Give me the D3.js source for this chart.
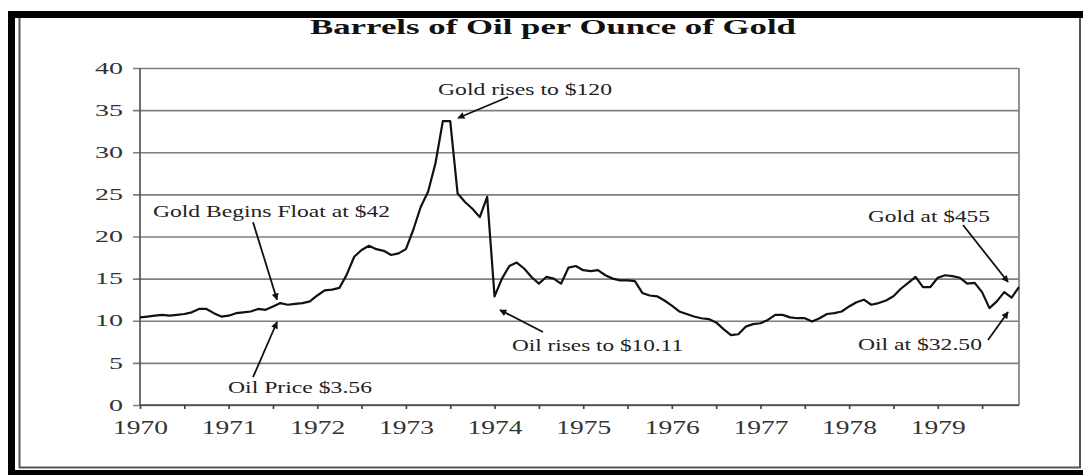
<!DOCTYPE html>
<html><head><meta charset="utf-8">
<script src="https://cdn.jsdelivr.net/npm/d3@7"></script>
<style>html,body{margin:0;padding:0;background:#fff}svg{display:block}</style>
</head><body>
<script>
// ---------- DATA ----------
const title = "Barrels of Oil per Ounce of Gold";
const yearLabels = ["1970","1971","1972","1973","1974","1975","1976","1977","1978","1979"];
const yTickValues = [0,5,10,15,20,25,30,35,40];
const startYear = 1970;
// monthly barrels of oil per ounce of gold, Jan 1970 .. Dec 1979
const ratio1970 = [10.4,10.5,10.6,10.7,10.6,10.7,10.8,11.0,11.4,11.4,10.9,10.5];
const ratio1971 = [10.6,10.9,11.0,11.1,11.4,11.3,11.7,12.1,11.9,12.0,12.1,12.3];
const ratio1972 = [13.0,13.6,13.7,13.9,15.5,17.6,18.4,18.9,18.5,18.3,17.8,18.0];
const ratio1973 = [18.5,20.8,23.5,25.3,28.7,33.7,33.7,25.1,24.1,23.3,22.3,24.7];
const ratio1974 = [12.9,15.0,16.5,16.9,16.2,15.2,14.4,15.2,15.0,14.4,16.3,16.5];
const ratio1975 = [16.0,15.9,16.0,15.4,15.0,14.8,14.8,14.7,13.3,13.0,12.9,12.4];
const ratio1976 = [11.8,11.1,10.8,10.5,10.3,10.2,9.8,9.0,8.3,8.4,9.3,9.6];
const ratio1977 = [9.7,10.1,10.7,10.7,10.4,10.3,10.3,9.9,10.3,10.8,10.9,11.1];
const ratio1978 = [11.7,12.2,12.5,11.9,12.1,12.4,12.9,13.8,14.5,15.2,14.0,14.0];
const ratio1979 = [15.1,15.4,15.3,15.1,14.4,14.5,13.4,11.5,12.3,13.4,12.75,14.0];
const ratio = [].concat(ratio1970,ratio1971,ratio1972,ratio1973,ratio1974,
                        ratio1975,ratio1976,ratio1977,ratio1978,ratio1979);
// annotations: label anchor (year, value) and arrow from/to (year, value)
const annLabels = ["Gold Begins Float at $42","Oil Price $3.56","Gold rises to $120",
                   "Oil rises to $10.11","Gold at $455","Oil at $32.50"];
const annTextAt  = [[1970.147,22.3],[1970.993,1.42],[1973.362,36.8],[1974.197,6.4],[1978.213,21.72],[1978.10,6.53]];
const annArrowFrom = [[1971.275,21.7],[1971.275,3.3],[1974.152,36.56],[1974.546,8.66],[1979.285,21.36],[1979.567,7.72]];
const annArrowTo   = [[1971.546,12.5],[1971.546,9.85],[1973.588,34.07],[1974.061,11.28],[1979.793,14.6],[1979.793,11.04]];

// ---------- LAYOUT / STYLE ----------
const W = 1083, H = 475;
const plot = {left:140, right:1019, top:68, bottom:405};
const annWidths = [237,144,174,171,122,124];
const serif = "'Liberation Serif','Times New Roman',serif";
const gridColor = "#7f7f7f";

const svg = d3.select("body").append("svg").attr("width",W).attr("height",H);

// frame
svg.append("rect").attr("x",0).attr("y",0).attr("width",W).attr("height",H).attr("fill","#fff");
svg.append("rect").attr("x",8).attr("y",11).attr("width",W-8).attr("height",7).attr("fill","#000");
svg.append("rect").attr("x",8).attr("y",11).attr("width",7).attr("height",H-11).attr("fill","#000");
svg.append("rect").attr("x",8).attr("y",470).attr("width",W-8).attr("height",5).attr("fill","#000");
svg.append("line").attr("x1",19.5).attr("x2",19.5).attr("y1",18).attr("y2",468).attr("stroke","#555").attr("stroke-width",2);
svg.append("line").attr("x1",19).attr("x2",1081).attr("y1",467.5).attr("y2",467.5).attr("stroke","#555").attr("stroke-width",2);
svg.append("line").attr("x1",1080).attr("x2",1080).attr("y1",18).attr("y2",468).attr("stroke","#555").attr("stroke-width",2);

// scales
const monthsX = ratio.map((d,i)=>startYear + i/12);
const x = d3.scaleLinear().domain([startYear, startYear + (ratio.length-1)/12]).range([plot.left, plot.right]);
const y = d3.scaleLinear().domain([0,40]).range([plot.bottom, plot.top]);

// title
svg.append("text").attr("x",553).attr("y",34).attr("text-anchor","middle")
  .attr("font-family",serif).attr("font-weight","bold").attr("font-size",22)
  .attr("fill","#111").attr("textLength",486).attr("lengthAdjust","spacingAndGlyphs").text(title);

// gridlines (y axis with long ticks)
const yAxis = d3.axisLeft(y).tickValues(yTickValues).tickSize(-(plot.right-plot.left)).tickPadding(17).tickFormat(d3.format("d"));
const gy = svg.append("g").attr("transform",`translate(${plot.left},0)`).call(yAxis);
gy.select(".domain").remove();
gy.selectAll(".tick line").attr("x1",-7).attr("stroke",gridColor).attr("stroke-width",1.7);
gy.selectAll(".tick text").attr("font-family",serif).attr("font-size",16).attr("fill","#333")
  .each(function(d){ const s=String(d); d3.select(this).attr("textLength",14*s.length).attr("lengthAdjust","spacingAndGlyphs"); });

// right border
svg.append("line").attr("x1",plot.right).attr("x2",plot.right).attr("y1",plot.top).attr("y2",plot.bottom)
  .attr("stroke",gridColor).attr("stroke-width",1.7);
// left axis
svg.append("line").attr("x1",plot.left).attr("x2",plot.left).attr("y1",plot.top).attr("y2",plot.bottom)
  .attr("stroke","#555").attr("stroke-width",1.7);

// x axis
const halfYears = d3.range(0,20).map(k=>startYear + k/2);
const xAxis = d3.axisBottom(x).tickValues(halfYears).tickSize(4).tickPadding(12)
  .tickFormat(d => Number.isInteger(d) ? yearLabels[d-startYear] : "");
const gx = svg.append("g").attr("transform",`translate(0,${plot.bottom})`).call(xAxis);
gx.select(".domain").attr("stroke","#444").attr("stroke-width",1.7).attr("d",`M${plot.left},0H${plot.right}`);
gx.selectAll(".tick line").attr("stroke","#444").attr("stroke-width",1.7);
gx.selectAll(".tick text").attr("font-family",serif).attr("font-size",19).attr("fill","#333")
  .attr("dy","0.71em")
  .each(function(d){ if(Number.isInteger(d)) d3.select(this).attr("textLength",55).attr("lengthAdjust","spacingAndGlyphs"); });

// data line
const line = d3.line().x((d,i)=>x(monthsX[i])).y(d=>y(d));
svg.append("path").datum(ratio).attr("d",line).attr("fill","none")
  .attr("stroke","#111").attr("stroke-width",2.2).attr("stroke-linejoin","round");

// arrow marker
svg.append("defs").append("marker").attr("id","ah").attr("viewBox","0 0 10 10")
  .attr("refX",9).attr("refY",5).attr("markerWidth",9).attr("markerHeight",7)
  .attr("markerUnits","userSpaceOnUse").attr("orient","auto")
  .append("path").attr("d","M0,0L10,5L0,10z").attr("fill","#111");

// annotations
annLabels.forEach((t,i)=>{
  svg.append("text").attr("x",x(annTextAt[i][0])).attr("y",y(annTextAt[i][1]))
    .attr("font-family",serif).attr("font-size",16).attr("fill","#222")
    .attr("textLength",annWidths[i]).attr("lengthAdjust","spacingAndGlyphs").text(t);
  svg.append("line")
    .attr("x1",x(annArrowFrom[i][0])).attr("y1",y(annArrowFrom[i][1]))
    .attr("x2",x(annArrowTo[i][0])).attr("y2",y(annArrowTo[i][1]))
    .attr("stroke","#111").attr("stroke-width",1.8).attr("marker-end","url(#ah)");
});
</script>
</body></html>
